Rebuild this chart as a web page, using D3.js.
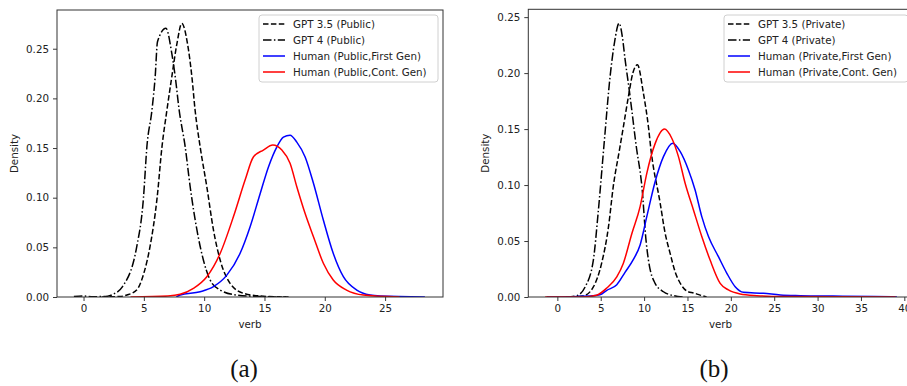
<!DOCTYPE html>
<html>
<head>
<meta charset="utf-8">
<script src="https://cdn.jsdelivr.net/npm/d3@7"></script>
<style>
  html, body { margin: 0; padding: 0; background: #fff; }
  svg { display: block; }
</style>
</head>
<body>
<svg id="chart" width="907" height="386"></svg>
<script>
// ---------- DATA ----------
const xTicksA = [0, 5, 10, 15, 20, 25];
const xTicksB = [0, 5, 10, 15, 20, 25, 30, 35, 40];
const yTicksA = [0, 0.05, 0.10, 0.15, 0.20, 0.25];
const yTicksB = [0, 0.05, 0.10, 0.15, 0.20, 0.25];

const seriesNamesA = ["GPT 3.5 (Public)", "GPT 4 (Public)", "Human (Public,First Gen)", "Human (Public,Cont. Gen)"];
const seriesNamesB = ["GPT 3.5 (Private)", "GPT 4 (Private)", "Human (Private,First Gen)", "Human (Private,Cont. Gen)"];

// Panel (a): [verb, density]
const gpt35Public = [[1.5,0],[3.0,0.0005],[3.6,0.002],[4.4,0.007],[5.0,0.024],[5.5,0.05],[6.1,0.10],[6.5,0.151],[6.91,0.188],[7.32,0.222],[7.74,0.255],[8.15,0.2755],[8.62,0.255],[8.98,0.222],[9.25,0.188],[9.67,0.151],[10.22,0.111],[10.77,0.0675],[11.33,0.037],[12.15,0.0138],[13.26,0.0037],[14.64,0.001],[16.8,0]];
const gpt4Public = [[-0.8,0.0005],[0.0,0.001],[0.8,0.0003],[2.0,0.0008],[2.5,0.003],[3.2,0.010],[4.4,0.05],[4.97,0.10],[5.25,0.151],[5.67,0.188],[5.94,0.222],[6.13,0.257],[6.83,0.2705],[7.32,0.245],[7.6,0.222],[7.93,0.188],[8.43,0.151],[8.84,0.111],[9.4,0.0675],[9.94,0.037],[10.5,0.017],[11.33,0.007],[12.7,0.002],[14.9,0.0004],[17.0,0]];
const humanFirstPublic = [[7.7,0],[8.01,0.002],[9.67,0.0053],[10.77,0.0104],[11.88,0.022],[12.98,0.044],[13.81,0.0708],[14.64,0.104],[15.33,0.131],[16.02,0.151],[16.57,0.161],[17.12,0.163],[17.68,0.156],[18.37,0.141],[19.06,0.1145],[19.88,0.0775],[20.7,0.044],[21.54,0.0204],[22.65,0.007],[23.75,0.002],[24.6,0.001],[28.3,0]];
const humanContPublic = [[3.9,0],[7.0,0.001],[8.01,0.0027],[9.11,0.0087],[10.22,0.0204],[11.33,0.044],[12.43,0.081],[13.4,0.118],[14.08,0.141],[14.91,0.148],[15.69,0.153],[16.44,0.148],[17.12,0.1346],[17.68,0.111],[18.37,0.084],[19.06,0.0607],[19.88,0.034],[20.7,0.0171],[21.8,0.007],[23.2,0.002],[26.2,0]];

// Panel (b)
const gpt35Private = [[1.5,0],[3.0,0.001],[4.15,0.009],[5.1,0.030],[5.9,0.063],[6.45,0.099],[7.15,0.131],[7.61,0.152],[8.19,0.179],[8.7,0.2],[9.23,0.2074],[9.92,0.182],[10.5,0.152],[10.8,0.131],[11.85,0.084],[12.4,0.058],[13.0,0.039],[13.6,0.022],[14.15,0.0125],[15.0,0.005],[15.7,0.0036],[16.8,0.0009],[17.2,0]];
const gpt4Private = [[1.0,0],[2.2,0.001],[3.2,0.009],[4.15,0.033],[4.7,0.075],[5.39,0.137],[6.08,0.197],[6.6,0.228],[7.12,0.2446],[7.5,0.232],[7.81,0.212],[8.2,0.19],[8.58,0.167],[9.16,0.131],[9.54,0.112],[9.73,0.10],[10.23,0.05],[10.5,0.033],[11.27,0.0122],[12.23,0.0047],[13.4,0.0012],[14.5,0]];
const humanFirstPrivate = [[-1.2,0],[3.8,0.001],[4.9,0.002],[5.7,0.006],[6.85,0.011],[7.8,0.022],[8.8,0.034],[9.54,0.0465],[10.31,0.0718],[11.27,0.103],[12.23,0.1254],[13.31,0.1374],[14.15,0.130],[15.11,0.1135],[15.88,0.0956],[16.65,0.0718],[17.42,0.054],[18.57,0.036],[19.54,0.0212],[20.5,0.0092],[21.45,0.0042],[23.76,0.0033],[25.7,0.0018],[28.0,0.0012],[31.8,0.0008],[36.5,0.0005],[39.15,0]];
const humanContPrivate = [[-1.4,0],[3.0,0],[4.5,0.0015],[5.7,0.008],[6.85,0.018],[7.6,0.030],[8.6,0.057],[9.54,0.0807],[10.31,0.1105],[11.27,0.137],[12.34,0.150],[13.19,0.1418],[13.96,0.1254],[14.73,0.1016],[15.69,0.0778],[16.65,0.054],[17.61,0.033],[18.77,0.0122],[19.72,0.0063],[21.07,0.0027],[23.0,0.0012],[26.0,0.0004],[39.0,0]];

// ---------- DRAW ----------
const svg = d3.select("#chart");
const FONT = "'DejaVu Sans', sans-serif";
const FS = 10.3;
const styles = [
  { color: "#000", dash: "5.5,2.4" },
  { color: "#000", dash: "8.5,2.4,1.5,2.4" },
  { color: "#0000ff", dash: null },
  { color: "#ff0000", dash: null }
];

function panel(cfg) {
  const x = d3.scaleLinear().domain(cfg.xDomain).range([cfg.left, cfg.right]);
  const y = d3.scaleLinear().domain(cfg.yDomain).range([cfg.bottom, cfg.top]);
  const g = svg.append("g");

  const clipId = "clip" + cfg.id;
  svg.append("clipPath").attr("id", clipId).append("rect")
    .attr("x", cfg.left).attr("y", cfg.top)
    .attr("width", cfg.right - cfg.left).attr("height", cfg.bottom - cfg.top);

  const line = d3.line().x(d => x(d[0])).y(d => y(d[1])).curve(d3.curveMonotoneX);
  const lines = g.append("g").attr("clip-path", `url(#${clipId})`);
  cfg.series.forEach((s, i) => {
    lines.append("path").datum(s)
      .attr("d", line)
      .attr("fill", "none")
      .attr("stroke", styles[i].color)
      .attr("stroke-width", 1.5)
      .attr("stroke-dasharray", styles[i].dash);
  });

  // axes
  const xAxis = d3.axisBottom(x).tickValues(cfg.xTicks).tickSize(4).tickPadding(4).tickFormat(d3.format("d"));
  const gx = g.append("g").attr("transform", `translate(0,${cfg.bottom})`).call(xAxis);
  const yAxis = d3.axisLeft(y).tickValues(cfg.yTicks).tickSize(4).tickPadding(4).tickFormat(d3.format(".2f"));
  const gy = g.append("g").attr("transform", `translate(${cfg.left},0)`).call(yAxis);
  [gx, gy].forEach(a => {
    a.select(".domain").remove();
    a.selectAll(".tick line").attr("stroke", "#222").attr("stroke-width", 0.9);
    a.selectAll(".tick text").style("font-size", FS + "px").style("fill", "#222")
      .style("font-family", FONT);
  });

  // frame
  g.append("rect")
    .attr("x", cfg.left).attr("y", cfg.top)
    .attr("width", cfg.right - cfg.left).attr("height", cfg.bottom - cfg.top)
    .attr("fill", "none").attr("stroke", "#333").attr("stroke-width", 1);

  // labels
  g.append("text").attr("x", cfg.xlabelX).attr("y", 328)
    .attr("text-anchor", "middle")
    .style("font-family", FONT).style("font-size", FS + "px").style("fill", "#222").text("verb");
  g.append("text")
    .attr("transform", `translate(${cfg.ylabelX},${(cfg.top + cfg.bottom) / 2}) rotate(-90)`)
    .attr("text-anchor", "middle")
    .style("font-family", FONT).style("font-size", FS + "px").style("fill", "#222").text("Density");

  // legend
  const lg = g.append("g");
  lg.append("rect").attr("x", cfg.legX).attr("y", 15).attr("width", cfg.legW).attr("height", 67)
    .attr("rx", 3).attr("fill", "#fff").attr("fill-opacity", 0.85)
    .attr("stroke", "#d0d0d0").attr("stroke-width", 1);
  cfg.names.forEach((n, i) => {
    const yy = 24 + i * 16;
    lg.append("line").attr("x1", cfg.legX + 4).attr("x2", cfg.legX + 26)
      .attr("y1", yy).attr("y2", yy)
      .attr("stroke", styles[i].color).attr("stroke-width", 1.5)
      .attr("stroke-dasharray", styles[i].dash);
    lg.append("text").attr("x", cfg.legX + 34).attr("y", yy + 3.8)
      .style("font-family", FONT).style("font-size", FS + "px").style("fill", "#222").text(n);
  });

  // caption
  svg.append("text").attr("x", cfg.capX).attr("y", 377)
    .attr("text-anchor", "middle")
    .style("font-family", "'Liberation Serif', 'DejaVu Serif', serif")
    .style("font-size", "25px").style("fill", "#111").text(cfg.caption);
}

panel({
  id: "a", left: 57, right: 443, top: 10, bottom: 297,
  xDomain: [-2.2, 29.8], yDomain: [0, 0.289],
  xTicks: xTicksA, yTicks: yTicksA,
  series: [gpt35Public, gpt4Public, humanFirstPublic, humanContPublic],
  names: seriesNamesA, legX: 259, legW: 179,
  ylabelX: 18, xlabelX: 250, capX: 244, caption: "(a)"
});

panel({
  id: "b", left: 528.3, right: 913, top: 9.3, bottom: 297,
  xDomain: [-3.35, 41.0], yDomain: [0, 0.257],
  xTicks: xTicksB, yTicks: yTicksB,
  series: [gpt35Private, gpt4Private, humanFirstPrivate, humanContPrivate],
  names: seriesNamesB, legX: 724, legW: 184,
  ylabelX: 489, xlabelX: 720.5, capX: 714, caption: "(b)"
});
</script>
</body>
</html>
